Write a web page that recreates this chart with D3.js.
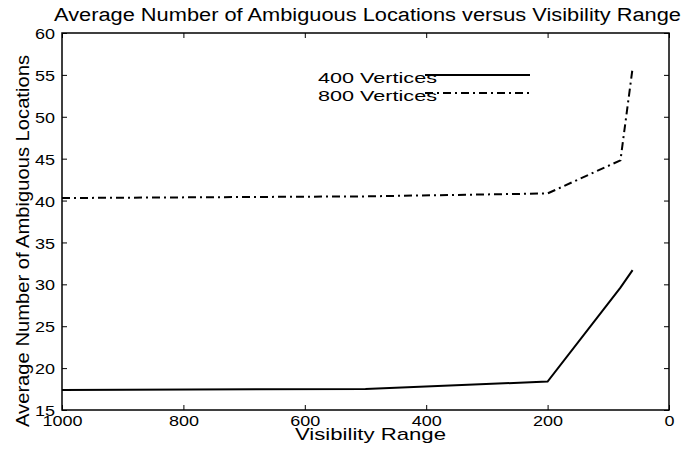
<!DOCTYPE html>
<html>
<head>
<meta charset="utf-8">
<script src="https://cdn.jsdelivr.net/npm/d3@7"></script>
<style>
  body { margin: 0; background: #fff; }
  svg text { font-family: "Liberation Sans", Arial, sans-serif; fill: #000; }
</style>
</head>
<body>
<svg id="chart" width="683" height="450"></svg>
<script>
'use strict'

/****** DATA ******/

const visibility = [1000, 500, 200, 80, 60]
const vertices400 = [17.4, 17.5, 18.4, 29.6, 31.7]
const vertices800 = [40.3, 40.5, 40.85, 44.8, 55.8]

const xTicks = [1000, 800, 600, 400, 200, 0]
const yTicks = [15, 20, 25, 30, 35, 40, 45, 50, 55, 60]

const seriesNames = ['400 Vertices', '800 Vertices']

/****** CHART ******/

const margin = {top: 33, right: 14, bottom: 40, left: 62}
const width = 683 - margin.left - margin.right,
      height = 450 - margin.top - margin.bottom

const x = d3.scaleLinear().domain([1000, 0]).range([0, width])
const y = d3.scaleLinear().domain([15, 60]).range([height, 0])

// the reference font is a wide helvetica, so stretch text horizontally
function stretch(sel, k) {
  sel.each(function() {
    const w = this.getComputedTextLength()
    d3.select(this)
      .attr('textLength', w * k)
      .attr('lengthAdjust', 'spacingAndGlyphs')
  })
}
function fitTo(sel, w) {
  sel.attr('textLength', w).attr('lengthAdjust', 'spacingAndGlyphs')
}

const svg = d3.select('#chart')
const chart = svg.append('g')
  .attr('transform', `translate(${margin.left},${margin.top})`)

// frame box
chart.append('rect')
  .attr('width', width)
  .attr('height', height)
  .attr('fill', 'none')
  .attr('stroke', '#000')
  .attr('stroke-width', 1.5)

// axes, ticks pointing inward (matlab style)
const styleAxis = g => {
  g.select('.domain').remove()
  g.selectAll('.tick line').attr('stroke', '#000')
  g.selectAll('.tick text').style('font-size', '15px')
}

chart.append('g')
  .attr('transform', `translate(0,${height})`)
  .call(d3.axisBottom(x).tickValues(xTicks).tickSize(-5).tickPadding(5).tickFormat(d3.format('d')))
  .call(styleAxis)
  .selectAll('.tick text').call(stretch, 1.2)

chart.append('g')
  .call(d3.axisTop(x).tickValues(xTicks).tickSize(-5).tickFormat(''))
  .call(styleAxis)

chart.append('g')
  .call(d3.axisLeft(y).tickValues(yTicks).tickSize(-5).tickPadding(7))
  .call(styleAxis)
  .selectAll('.tick text').attr('dy', '0.37em').call(stretch, 1.2)

chart.append('g')
  .attr('transform', `translate(${width},0)`)
  .call(d3.axisRight(y).tickValues(yTicks).tickSize(-5).tickFormat(''))
  .call(styleAxis)

// lines
const line = d3.line()
  .x(d => x(d[0]))
  .y(d => y(d[1]))

const series = [
  {name: seriesNames[0], values: vertices400, dash: null},
  {name: seriesNames[1], values: vertices800, dash: '8,4,2,4'}
]

chart.selectAll('.series')
  .data(series)
  .join('path')
    .attr('class', 'series')
    .attr('fill', 'none')
    .attr('stroke', '#000')
    .attr('stroke-width', 2)
    .attr('stroke-dasharray', d => d.dash)
    .attr('d', d => line(visibility.map((v, i) => [v, d.values[i]])))

// legend (no box)
const legend = chart.append('g')
  .attr('transform', `translate(${437 - margin.left},${y(55)})`)

series.forEach((s, i) => {
  const row = legend.append('g').attr('transform', `translate(0,${i * 18})`)
  row.append('line')
    .attr('x1', -12).attr('x2', 93)
    .attr('stroke', '#000')
    .attr('stroke-width', 2)
    .attr('stroke-dasharray', s.dash)
  row.append('text')
    .attr('x', 0).attr('y', 8)
    .attr('text-anchor', 'end')
    .style('font-size', '15px')
    .text(s.name)
    .call(fitTo, 119)
})

// title and axis labels
svg.append('text')
  .attr('x', 367.5).attr('y', 21)
  .attr('text-anchor', 'middle')
  .style('font-size', '18px')
  .text('Average Number of Ambiguous Locations versus Visibility Range')
  .call(fitTo, 627)

svg.append('text')
  .attr('x', 370.5).attr('y', 440)
  .attr('text-anchor', 'middle')
  .style('font-size', '17px')
  .text('Visibility Range')
  .call(fitTo, 151)

svg.append('text')
  .attr('transform', 'translate(29,241) rotate(-90)')
  .attr('text-anchor', 'middle')
  .style('font-size', '18px')
  .text('Average Number of Ambiguous Locations')
  .call(fitTo, 372)
</script>
</body>
</html>
